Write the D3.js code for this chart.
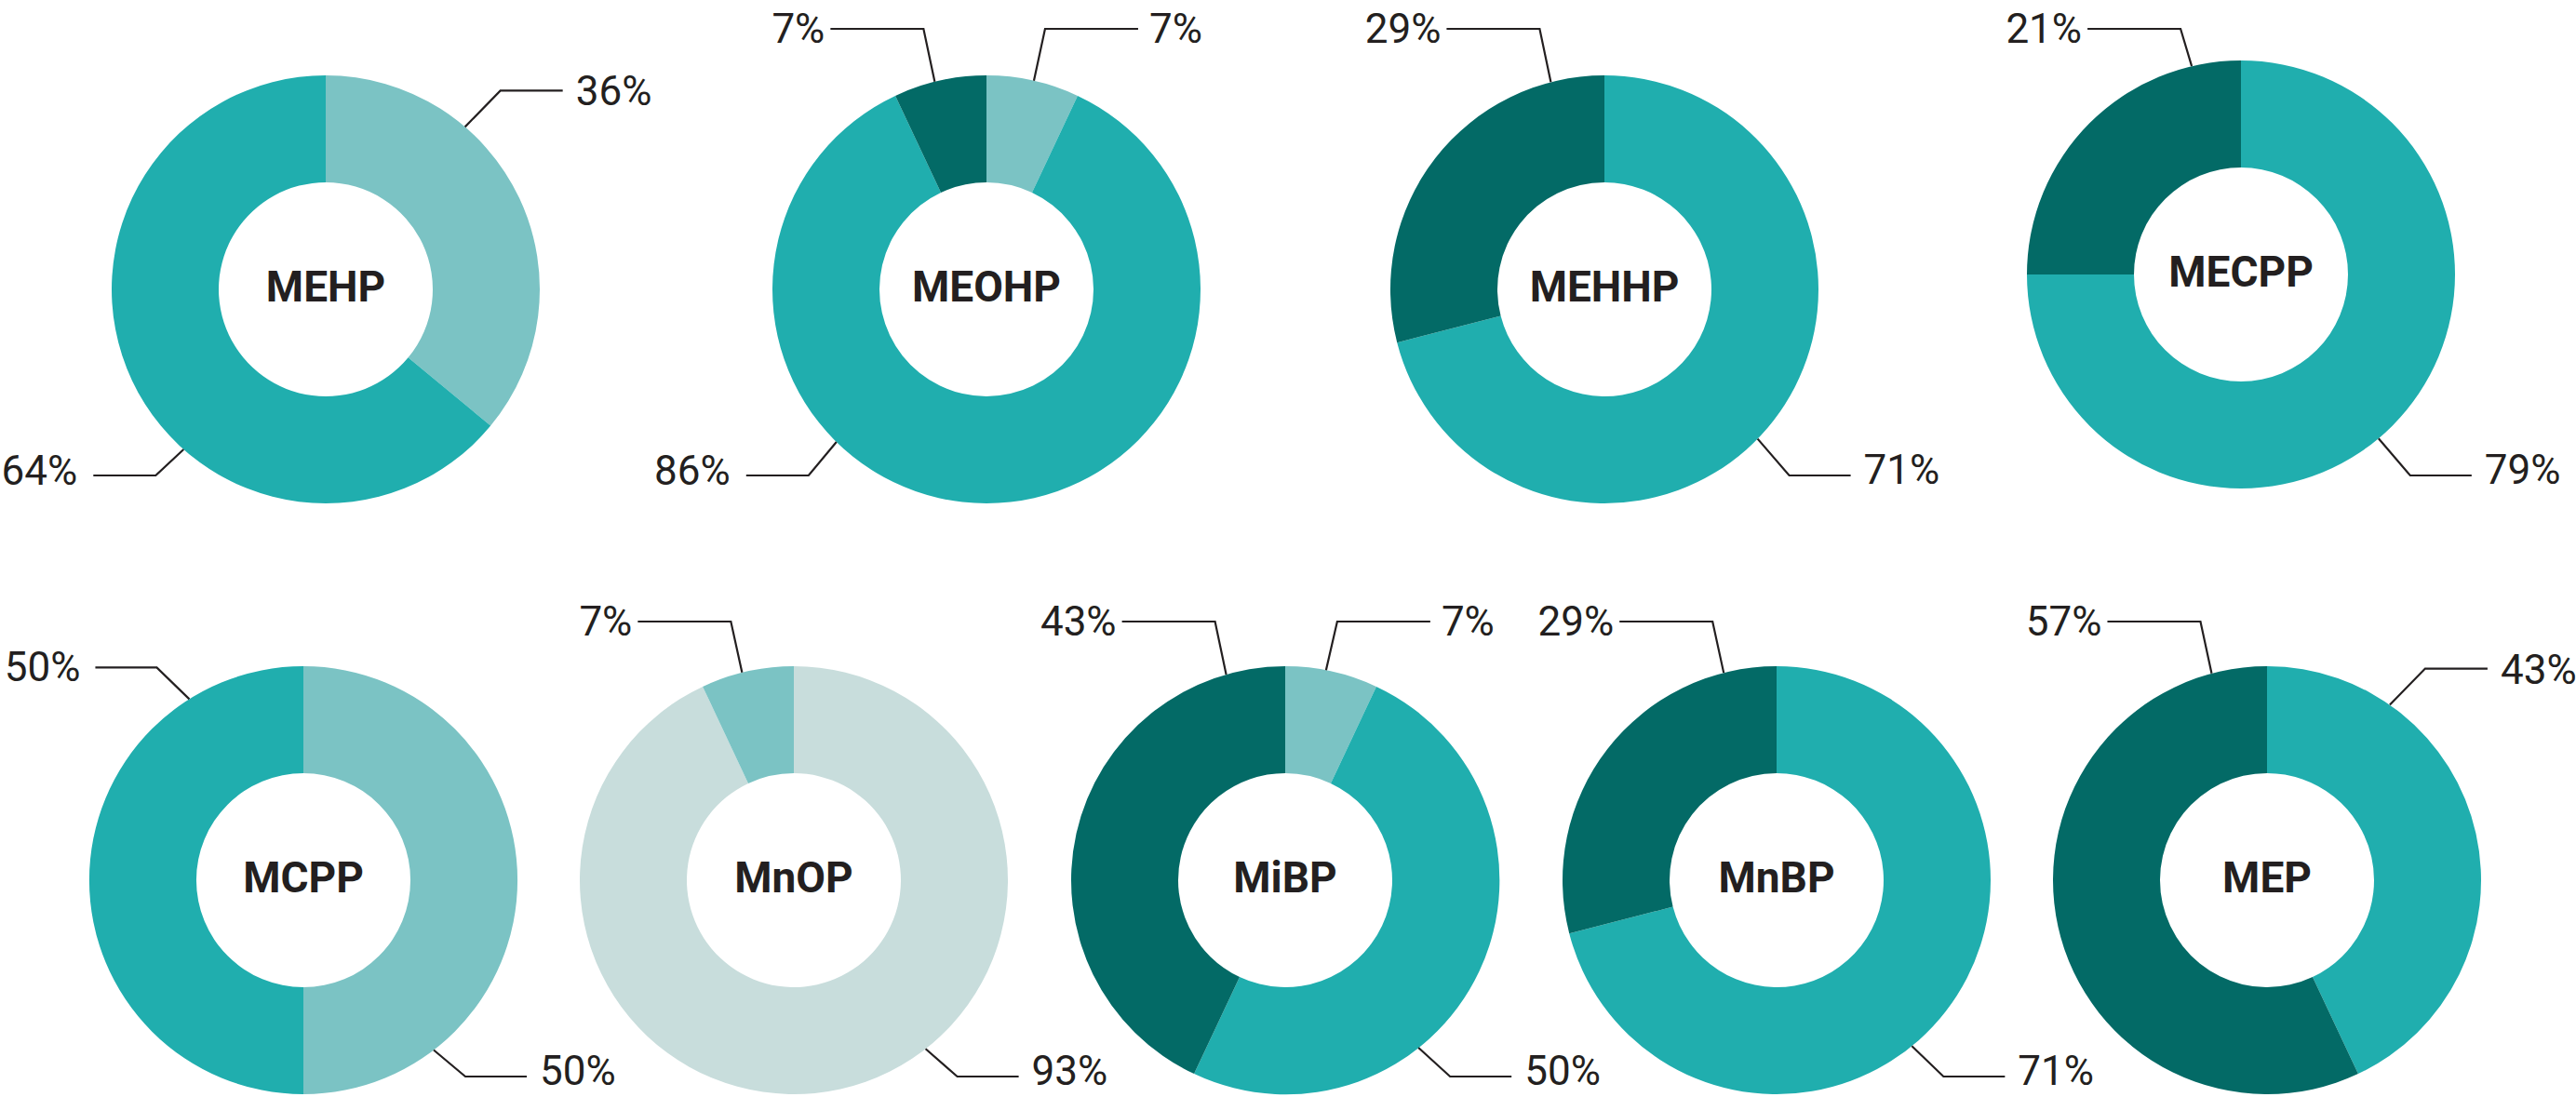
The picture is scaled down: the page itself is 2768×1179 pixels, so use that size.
<!DOCTYPE html>
<html>
<head>
<meta charset="utf-8">
<script src="https://cdn.jsdelivr.net/npm/d3@7"></script>
<style>
  body { margin: 0; background: #fff; }
  svg { display: block; font-family: Roboto, "Open Sans", sans-serif; }
</style>
</head>
<body>
<svg id="chart"></svg>
<script>

// compounds, one donut each
var compounds = ["MEHP", "MEOHP", "MEHHP", "MECPP", "MCPP", "MnOP", "MiBP", "MnBP", "MEP"];

// ring shares as drawn, clockwise from 12 o'clock in the order pale, light, medium, dark
var paleShare   = [0, 0, 0, 0, 0, 93, 0, 0, 0];
var lightShare  = [36, 7, 0, 0, 50, 7, 7, 0, 0];
var mediumShare = [64, 86, 71, 75, 50, 0, 50, 71, 43];
var darkShare   = [0, 7, 29, 25, 0, 0, 43, 29, 57];

// percentages printed next to the rings (MECPP prints 79/21 though its ring is split 75/25)
var palePct   = [0, 0, 0, 0, 0, 93, 0, 0, 0];
var lightPct  = [36, 7, 0, 0, 50, 7, 7, 0, 0];
var mediumPct = [64, 86, 71, 79, 50, 0, 50, 71, 43];
var darkPct   = [0, 7, 29, 21, 0, 0, 43, 29, 57];

var seriesKeys = ["pale", "light", "medium", "dark"];

// ---- layout ----
var W = 2768, H = 1179;
var R = 230, r = 115;
var colors = { pale: "#c8dddc", light: "#7bc3c4", medium: "#20aeae", dark: "#036a66" };
var ink = "#231f20";

var centers = [[350, 311], [1060, 311], [1724, 311], [2408, 295],
               [326, 946], [853, 946], [1381, 946], [1909, 946], [2436, 946]];
var rowOf = [0, 0, 0, 0, 1, 1, 1, 1, 1];
var rowTop = [31, 668], rowBottom = [511, 1157];

// label styles: elbow offset from the ring, line length, text gap, which side
var slots = {
  tl: { dx: -12, y: "top",    len: 100, gap: 6,  side: -1, base: 15 },
  tr: { dx: 12,  y: "top",    len: 100, gap: 12, side: 1,  base: 15 },
  br: { dx: 34,  y: "bottom", len: 66,  gap: 14, side: 1,  base: 9 },
  bl: { dx: -30, y: "bottom", len: 67,  gap: 17, side: -1, base: 10 },
  rh: { dx: 38,  dy: -39,     len: 67,  gap: 14, side: 1,  base: 16 },
  lh: { dx: -35, dy: -34,     len: 66,  gap: 16, side: -1, base: 15 }
};
// label style and the angle (deg clockwise from top) where its leader meets the ring
var slotOf = [
  { light: ["rh", 40.6], medium: ["bl", 221.6] },
  { light: ["tr", 12.8], medium: ["bl", 224.5], dark: ["tl", 346] },
  { medium: ["br", 134.3], dark: ["tl", 345.5] },
  { medium: ["br", 140], dark: ["tl", 346.7] },
  { light: ["br", 142.5], medium: ["lh", 327.8] },
  { pale: ["br", 142], light: ["tl", 346] },
  { light: ["tr", 11], medium: ["br", 141.5], dark: ["tl", 344] },
  { medium: ["br", 140.8], dark: ["tl", 345.7] },
  { medium: ["rh", 35], dark: ["tl", 345] }
];

var shareBy = { pale: paleShare, light: lightShare, medium: mediumShare, dark: darkShare };
var pctBy = { pale: palePct, light: lightPct, medium: mediumPct, dark: darkPct };

var svg = d3.select("#chart").attr("width", W).attr("height", H);

var pie = d3.pie().sort(null).value(function(d){ return d.share });
var arc = d3.arc().innerRadius(r).outerRadius(R);

compounds.forEach(function(name, i){
  var cx = centers[i][0], cy = centers[i][1];
  var rows = seriesKeys.map(function(k){
    return { key: k, share: shareBy[k][i], pct: pctBy[k][i] };
  }).filter(function(d){ return d.share > 0 });

  var g = svg.append("g").attr("transform", "translate(" + cx + "," + cy + ")");

  g.selectAll("path")
    .data(pie(rows))
    .enter()
    .append("path")
      .attr("d", arc)
      .attr("fill", function(d){ return colors[d.data.key] });

  g.append("text")
    .attr("x", 0)
    .attr("y", 13)
    .attr("text-anchor", "middle")
    .style("font-size", "46px")
    .style("font-weight", 700)
    .style("fill", ink)
    .text(name);

  // leader lines and percentages
  rows.forEach(function(d){
    var spec = slotOf[i][d.key];
    var s = slots[spec[0]];
    var a = spec[1] * Math.PI / 180;
    var ax = cx + R * Math.sin(a), ay = cy - R * Math.cos(a);
    var ex = ax + s.dx;
    var ey = s.y === "top" ? rowTop[rowOf[i]] : s.y === "bottom" ? rowBottom[rowOf[i]] : ay + s.dy;
    var endX = ex + s.side * s.len;

    svg.append("path")
      .attr("d", d3.line()([[ax, ay], [ex, ey], [endX, ey]]))
      .attr("fill", "none")
      .attr("stroke", ink)
      .attr("stroke-width", 2.2);

    svg.append("text")
      .attr("x", endX + s.side * s.gap)
      .attr("y", ey + s.base)
      .attr("text-anchor", s.side > 0 ? "start" : "end")
      .style("font-size", "44px")
      .style("fill", ink)
      .text(d.pct + "%");
  });
});

</script>
</body>
</html>
